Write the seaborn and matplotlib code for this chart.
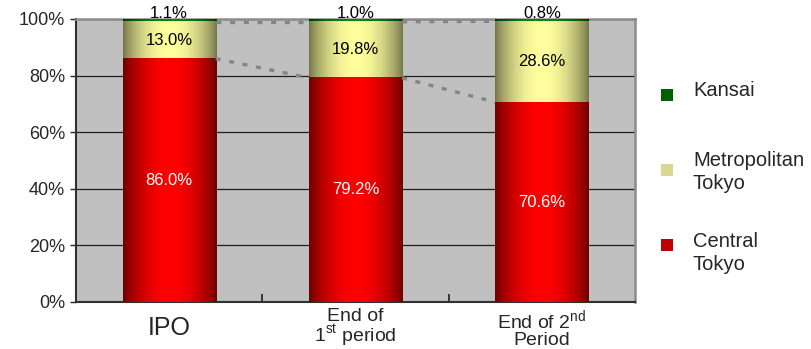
import numpy as np
import pandas as pd
import matplotlib
matplotlib.use("Agg")
import matplotlib.pyplot as plt
import seaborn as sns
from matplotlib.patches import Rectangle

# ── Data ──────────────────────────────────────────────────────
periods = ["IPO", "End of\n1$^{\\mathrm{st}}$ period", "End of 2$^{\\mathrm{nd}}$\nPeriod"]
central_tokyo = [86.0, 79.2, 70.6]
metro_tokyo = [13.0, 19.8, 28.6]
kansai = [1.1, 1.0, 0.8]
legend_labels = ["Kansai", "Metropolitan\nTokyo", "Central\nTokyo"]

df = pd.DataFrame({"period": periods, "central": central_tokyo,
                   "metro": metro_tokyo, "kansai": kansai})
df["metro_top"] = df["central"] + df["metro"]
df["kansai_top"] = df["metro_top"] + df["kansai"]

sns.set_style("white")
plt.rcParams["font.family"] = ["Liberation Sans", "DejaVu Sans"]
plt.rcParams["mathtext.fontset"] = "custom"
plt.rcParams["mathtext.rm"] = "Liberation Sans"

fig = plt.figure(figsize=(8.12, 3.49), dpi=100)
ax = fig.add_axes([76 / 812, 47 / 349, 559 / 812, 283 / 349])
ax.set_facecolor("#c0c0c0")

# segment colours: (edge, centre) for a horizontal cylinder-like gradient
SEG = {
    "kansai_top": ("#003800", "#008a00"),
    "metro_top": ("#74744a", "#ffff9e"),
    "central": ("#6a0000", "#ff0000"),
}


def gradient_fill(patch, edge, centre):
    x0, w = patch.get_x(), patch.get_width()
    y0, h = patch.get_y(), patch.get_height()
    t = np.linspace(-1, 1, 200)
    k = np.cos(t * np.pi / 2) ** 0.8
    e = np.array(matplotlib.colors.to_rgb(edge))
    c = np.array(matplotlib.colors.to_rgb(centre))
    img = e[None, :] + (c - e)[None, :] * k[:, None]
    ax.imshow(img[None, :, :], extent=(x0, x0 + w, y0, y0 + h),
              aspect="auto", interpolation="bilinear", zorder=3)
    patch.set_visible(False)


bars = {}
for col in ["kansai_top", "metro_top", "central"]:
    n_before = len(ax.patches)
    sns.barplot(data=df, x="period", y=col, ax=ax, width=0.5,
                color=SEG[col][1], saturation=1, zorder=2)
    bars[col] = ax.patches[n_before:]

for col in ["kansai_top", "metro_top", "central"]:
    for p in bars[col]:
        gradient_fill(p, *SEG[col])

ax.set_xlim(-0.5, 2.5)
ax.set_ylim(0, 100)

# connecting dotted lines between bars
cb = bars["central"]
for i in range(len(cb) - 1):
    xa = cb[i].get_x() + cb[i].get_width()
    xb = cb[i + 1].get_x()
    ax.plot([xa, xb], [central_tokyo[i], central_tokyo[i + 1]],
            color="#858585", lw=2.4, ls=(0, (1.5, 2.6)), zorder=4)
    ax.plot([xa, xb], [df["metro_top"][i], df["metro_top"][i + 1]],
            color="#858585", lw=2.4, ls=(0, (1.5, 2.6)), zorder=4)

# value labels
for i in range(len(periods)):
    ax.text(i, central_tokyo[i] / 2, f"{central_tokyo[i]:.1f}%", color="white",
            ha="center", va="center", fontsize=12, zorder=5)
    ax.text(i, central_tokyo[i] + metro_tokyo[i] / 2, f"{metro_tokyo[i]:.1f}%",
            color="black", ha="center", va="center", fontsize=12, zorder=5)
    ax.text(i, 101.8, f"{kansai[i]:.1f}%", color="black", ha="center",
            va="center", fontsize=12, zorder=6, clip_on=False)

# axes styling
ax.set_yticks([0, 20, 40, 60, 80, 100])
ax.set_yticklabels([f"{v}%" for v in [0, 20, 40, 60, 80, 100]], fontsize=13)
ax.yaxis.grid(True, color="#202020", lw=0.9)
ax.set_axisbelow(True)
ax.tick_params(axis="y", length=4, width=1, color="#202020", left=True, pad=4)
ax.set_xlabel("")
ax.set_ylabel("")

ax.set_xticks([0.5, 1.5], minor=True)
ax.tick_params(axis="x", which="minor", direction="in", length=6, width=1.2,
               color="#202020", bottom=True)
ax.tick_params(axis="x", which="major", length=0, pad=19)
sizes = [18, 14, 14]
for lbl, s in zip(ax.get_xticklabels(), sizes):
    lbl.set_fontsize(s)
    lbl.set_va("center")
    lbl.set_linespacing(0.92)

for side in ["left", "bottom"]:
    ax.spines[side].set_color("#303030")
    ax.spines[side].set_linewidth(1.5)
for side in ["top", "right"]:
    ax.spines[side].set_color("#8c8c8c")
    ax.spines[side].set_linewidth(1.8)
    ax.spines[side].set_visible(True)

# legend (manual, right side)
leg_colors = ["#006000", "#d8d890", "#c00000"]
sq_y = [95, 170, 245]
txt_y = [90, 172, 253]
for c, sy, ty, lab in zip(leg_colors, sq_y, txt_y, legend_labels):
    fig.add_artist(Rectangle((661 / 812, 1 - (sy + 6) / 349), 12 / 812, 12 / 349,
                             transform=fig.transFigure, facecolor=c,
                             edgecolor="none"))
    fig.text(693 / 812, 1 - ty / 349, lab, fontsize=14.5, va="center",
             ha="left", linespacing=1.25)

fig.savefig("out.png", dpi=100)
